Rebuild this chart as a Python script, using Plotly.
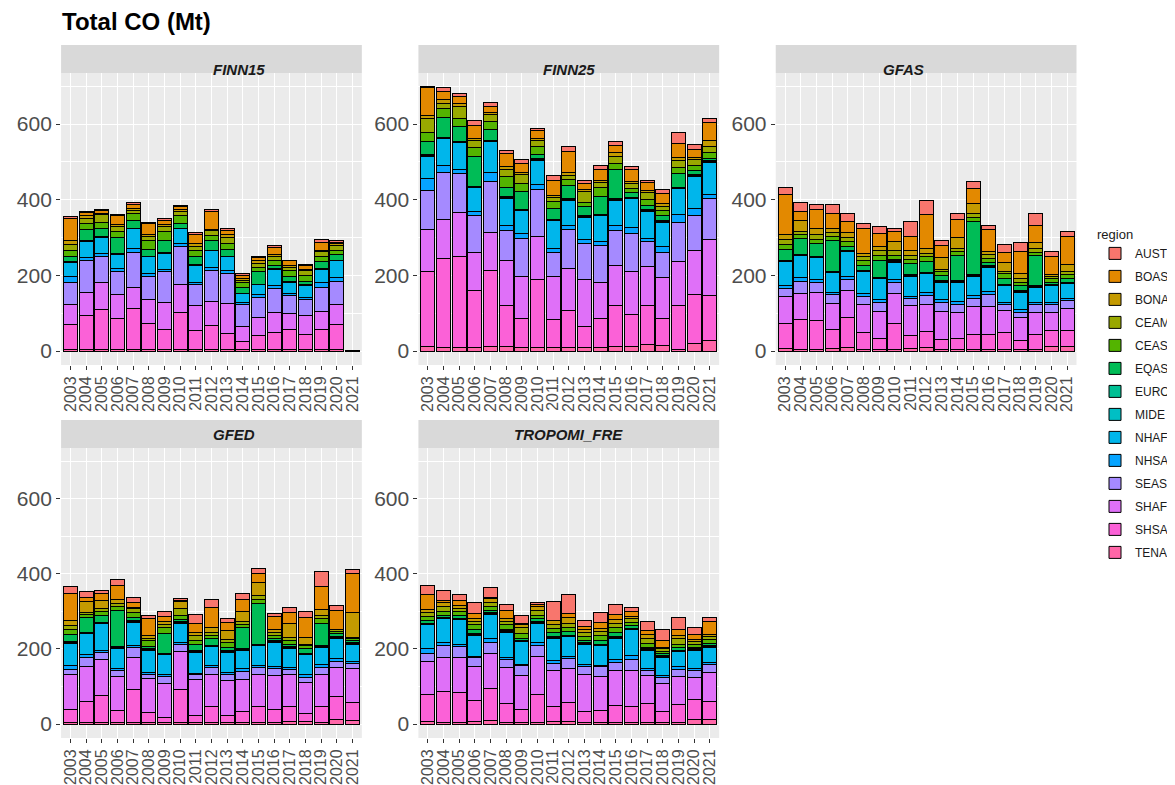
import plotly.graph_objects as go

years = [str(y) for y in range(2003, 2022)]
regions = ["AUST", "BOAS", "BONA", "CEAM", "CEAS", "EQAS", "EURO",
           "MIDE", "NHAF", "NHSA", "SEAS", "SHAF", "SHSA", "TENA"]
colours = ["#F8766D", "#E38900", "#C49A00", "#99A800", "#53B400", "#00BC56", "#00C094",
           "#00BFC4", "#00B6EB", "#06A4FF", "#A58AFF", "#DF70F8", "#FB61D7", "#FF66A8"]

# per-year rows: TENA, SHSA, SHAF, SEAS, NHSA, NHAF, MIDE, EURO, EQAS, CEAS, CEAM, BONA, BOAS, AUST
row_order = ["TENA", "SHSA", "SHAF", "SEAS", "NHSA", "NHAF", "MIDE", "EURO",
             "EQAS", "CEAS", "CEAM", "BONA", "BOAS", "AUST"]

finn15 = [
    [5, 66, 53, 58, 14, 38, 1, 1, 15, 16, 15, 9, 60, 5],
    [4, 91, 61, 82, 9, 42, 1, 2, 29, 16, 14, 6, 9, 4],
    [4, 107, 71, 69, 7, 43, 1, 1, 20, 18, 19, 3, 8, 4],
    [4, 82, 63, 60, 9, 38, 1, 2, 42, 16, 13, 5, 22, 4],
    [4, 109, 56, 91, 11, 52, 1, 1, 19, 19, 9, 5, 11, 5],
    [4, 70, 62, 60, 9, 44, 1, 1, 17, 25, 9, 6, 29, 4],
    [4, 52, 73, 80, 7, 42, 1, 1, 33, 23, 13, 6, 11, 4],
    [4, 98, 74, 100, 7, 40, 1, 1, 12, 20, 11, 5, 9, 3],
    [4, 49, 67, 56, 6, 45, 1, 1, 20, 17, 11, 6, 26, 5],
    [4, 63, 65, 82, 7, 44, 1, 1, 25, 14, 12, 3, 47, 5],
    [4, 42, 79, 80, 9, 35, 1, 1, 18, 16, 14, 8, 12, 4],
    [3, 22, 39, 59, 6, 22, 1, 1, 16, 11, 7, 4, 9, 4],
    [3, 39, 47, 53, 8, 25, 1, 1, 32, 13, 9, 7, 9, 4],
    [3, 46, 53, 63, 9, 41, 1, 1, 10, 13, 11, 5, 17, 5],
    [3, 55, 42, 47, 4, 31, 1, 1, 14, 14, 10, 5, 11, 2],
    [3, 41, 49, 42, 7, 32, 1, 1, 9, 15, 12, 3, 12, 3],
    [3, 53, 49, 64, 12, 35, 1, 1, 18, 15, 11, 5, 20, 8],
    [3, 68, 52, 61, 10, 44, 1, 1, 14, 13, 13, 3, 5, 3],
    [0.1, 0.1, 0.1, 0.1, 0.1, 0.1, 0, 0, 0.1, 0.1, 0.1, 0.1, 0.1, 0.1],
]
finn25 = [
    [12, 198, 110, 105, 30, 60, 2, 2, 36, 24, 37, 7, 73, 2],
    [8, 237, 104, 124, 17, 71, 2, 2, 52, 24, 14, 9, 22, 10],
    [8, 242, 116, 102, 12, 70, 2, 2, 40, 22, 31, 7, 18, 9],
    [10, 151, 100, 97, 11, 62, 2, 2, 78, 26, 18, 4, 34, 15],
    [12, 202, 98, 137, 22, 82, 2, 2, 28, 23, 18, 4, 16, 12],
    [12, 109, 118, 80, 12, 73, 2, 2, 23, 31, 19, 6, 35, 8],
    [8, 77, 113, 100, 12, 61, 2, 2, 47, 22, 23, 6, 22, 12],
    [8, 182, 113, 124, 13, 64, 2, 2, 12, 20, 17, 5, 20, 6],
    [10, 73, 113, 65, 11, 72, 2, 2, 28, 18, 12, 6, 39, 13],
    [10, 98, 109, 105, 10, 66, 2, 2, 35, 16, 11, 7, 57, 14],
    [10, 56, 123, 96, 11, 57, 2, 2, 24, 12, 29, 4, 16, 9],
    [10, 76, 95, 98, 10, 68, 2, 2, 48, 22, 14, 6, 28, 12],
    [12, 107, 108, 92, 13, 66, 2, 2, 79, 14, 18, 12, 19, 9],
    [12, 85, 113, 100, 17, 76, 2, 2, 11, 11, 13, 5, 33, 9],
    [18, 101, 104, 66, 9, 71, 2, 2, 11, 16, 18, 6, 21, 7],
    [15, 71, 109, 65, 16, 64, 2, 2, 14, 13, 12, 7, 26, 11],
    [5, 116, 115, 104, 20, 69, 2, 2, 35, 16, 20, 7, 37, 29],
    [20, 130, 117, 91, 20, 84, 2, 2, 11, 13, 17, 4, 22, 13],
    [27, 121, 148, 107, 10, 86, 2, 2, 5, 18, 15, 16, 47, 11],
]
gfas = [
    [7, 67, 71, 21, 7, 63, 2, 2, 29, 13, 13, 14, 105, 17],
    [4, 79, 70, 32, 9, 58, 2, 2, 42, 10, 8, 29, 24, 24],
    [4, 76, 74, 26, 8, 59, 2, 2, 33, 11, 12, 17, 51, 12],
    [7, 51, 68, 23, 7, 51, 2, 2, 80, 11, 11, 11, 39, 24],
    [9, 80, 71, 29, 9, 64, 2, 2, 11, 12, 11, 14, 28, 22],
    [4, 45, 73, 22, 7, 58, 2, 2, 14, 11, 13, 7, 67, 11],
    [4, 30, 70, 23, 8, 56, 2, 2, 45, 13, 12, 11, 35, 18],
    [4, 70, 77, 29, 8, 46, 2, 2, 5, 10, 14, 22, 27, 9],
    [7, 33, 80, 18, 6, 53, 2, 2, 30, 11, 11, 14, 37, 38],
    [9, 42, 73, 24, 8, 48, 2, 2, 29, 12, 9, 13, 89, 38],
    [4, 27, 74, 22, 8, 47, 2, 2, 14, 9, 6, 31, 32, 15],
    [4, 30, 68, 22, 8, 50, 2, 2, 67, 11, 7, 29, 47, 17],
    [4, 40, 73, 21, 9, 51, 2, 2, 140, 12, 9, 28, 38, 18],
    [4, 39, 74, 32, 8, 65, 2, 2, 7, 11, 11, 7, 58, 11],
    [4, 45, 59, 16, 5, 44, 2, 2, 16, 12, 6, 22, 27, 22],
    [4, 24, 61, 13, 7, 47, 2, 2, 13, 9, 9, 13, 60, 23],
    [3, 41, 58, 20, 5, 42, 2, 2, 79, 8, 11, 16, 46, 30],
    [12, 41, 49, 20, 7, 44, 2, 2, 5, 9, 6, 6, 46, 15],
    [11, 42, 60, 20, 7, 38, 2, 2, 10, 9, 9, 19, 75, 13],
]
gfed = [
    [4, 36, 92, 13, 11, 59, 2, 2, 19, 13, 11, 13, 74, 18],
    [4, 56, 93, 25, 6, 56, 2, 2, 41, 8, 5, 28, 10, 18],
    [4, 72, 96, 19, 6, 70, 2, 2, 18, 11, 8, 21, 18, 9],
    [3, 33, 90, 16, 5, 55, 2, 2, 96, 12, 6, 13, 36, 16],
    [3, 89, 84, 27, 6, 62, 2, 2, 9, 12, 11, 4, 13, 14],
    [4, 27, 91, 11, 5, 59, 2, 2, 6, 15, 7, 7, 44, 9],
    [4, 14, 90, 18, 6, 53, 2, 2, 51, 16, 9, 7, 15, 13],
    [3, 90, 100, 20, 5, 51, 2, 2, 5, 11, 18, 19, 3, 6],
    [4, 20, 94, 13, 5, 55, 2, 2, 17, 10, 14, 8, 25, 22],
    [4, 42, 87, 18, 5, 50, 2, 2, 17, 9, 8, 12, 55, 22],
    [4, 18, 94, 16, 6, 53, 2, 2, 9, 12, 9, 24, 22, 9],
    [4, 29, 85, 22, 7, 50, 2, 2, 55, 10, 8, 26, 31, 16],
    [4, 42, 87, 18, 6, 52, 2, 2, 109, 11, 9, 36, 24, 13],
    [4, 36, 89, 18, 6, 65, 2, 2, 6, 8, 8, 9, 33, 9],
    [7, 39, 87, 12, 6, 51, 2, 2, 7, 9, 9, 36, 31, 13],
    [7, 20, 84, 13, 8, 53, 2, 2, 13, 7, 4, 18, 52, 17],
    [3, 43, 87, 18, 9, 44, 2, 2, 59, 13, 9, 16, 62, 40],
    [12, 61, 78, 16, 8, 53, 2, 2, 8, 7, 4, 1, 51, 13],
    [9, 49, 89, 15, 5, 46, 2, 2, 5, 5, 4, 67, 104, 9],
]
tropomi = [
    [7, 71, 89, 21, 12, 65, 2, 2, 8, 10, 11, 7, 40, 23],
    [4, 83, 89, 33, 9, 62, 2, 2, 5, 11, 12, 13, 4, 27],
    [4, 80, 94, 28, 7, 65, 2, 2, 6, 12, 9, 8, 11, 16],
    [6, 56, 91, 23, 5, 56, 2, 2, 10, 14, 8, 9, 12, 29],
    [9, 87, 91, 29, 11, 66, 2, 2, 5, 12, 11, 9, 4, 25],
    [4, 52, 95, 22, 5, 66, 2, 2, 4, 13, 9, 7, 22, 15],
    [4, 34, 91, 27, 4, 59, 2, 2, 6, 13, 14, 8, 4, 20],
    [4, 76, 100, 30, 8, 51, 2, 2, 7, 9, 13, 11, 5, 6],
    [7, 39, 98, 18, 7, 59, 2, 2, 12, 10, 11, 10, 2, 49],
    [7, 51, 91, 26, 5, 53, 2, 2, 10, 11, 10, 15, 12, 50],
    [4, 30, 97, 23, 6, 52, 2, 2, 6, 11, 11, 8, 8, 16],
    [4, 32, 91, 26, 4, 52, 2, 2, 9, 14, 11, 8, 16, 25],
    [4, 45, 95, 20, 7, 58, 2, 2, 11, 12, 13, 9, 15, 25],
    [4, 43, 95, 31, 9, 69, 2, 2, 7, 9, 9, 6, 14, 11],
    [4, 52, 73, 15, 5, 47, 2, 2, 4, 11, 14, 9, 11, 25],
    [4, 29, 76, 14, 6, 49, 2, 2, 5, 7, 6, 4, 18, 29],
    [3, 48, 76, 18, 8, 40, 2, 2, 6, 10, 16, 6, 16, 34],
    [12, 53, 59, 18, 7, 47, 2, 2, 5, 7, 7, 6, 13, 18],
    [12, 48, 77, 21, 5, 41, 2, 2, 7, 9, 9, 5, 35, 11],
]

datasets = ["FINN15", "FINN25", "GFAS", "GFED", "TROPOMI_FRE"]
tables = [finn15, finn25, gfas, gfed, tropomi]

OFF = 8
W, H = 1175 - OFF, 785 - OFF
cols = [(62, 365), (422, 725), (782, 1085)]
rows = [(73, 365, 45), (448, 738, 420)]  # plot top, plot bottom, strip top


def px(v):
    v = (v - 0.6) / 0.9902  # small horizontal correction seen in the render
    return (v - OFF) / W


def py(v):
    return 1 - (v - OFF) / H


fig = go.Figure()
shapes, annotations = [], []
for k, (name, table) in enumerate(zip(datasets, tables)):
    r, c = divmod(k, 3)
    x0, x1 = cols[c]
    top, bot, stop = rows[r]
    ax = "" if k == 0 else str(k + 1)
    for reg in row_order:
        i = row_order.index(reg)
        fig.add_trace(go.Bar(
            x=years, y=[yr[i] for yr in table], name=reg,
            marker=dict(color=colours[regions.index(reg)], line=dict(color="black", width=1)),
            width=0.9, xaxis="x" + ax, yaxis="y" + ax,
            legendgroup=reg, legendrank=regions.index(reg) + 1, showlegend=(k == 0)))
    fig.layout["xaxis" + ax] = dict(
        domain=[px(x0), px(x1)], anchor="y" + ax, type="category",
        categoryorder="array", categoryarray=years, tickmode="array", tickvals=years,
        tickangle=-90, tickfont=dict(size=16, color="#4d4d4d"), ticks="outside",
        ticklen=4, tickcolor="#333333", showgrid=True, gridcolor="white", gridwidth=1.2,
        showline=False, zeroline=False, automargin=False, range=[-0.6, 18.6])
    fig.layout["yaxis" + ax] = dict(
        domain=[py(bot), py(top)], anchor="x" + ax, range=[-37, 735],
        tickvals=[0, 200, 400, 600], tickfont=dict(size=21, color="#4d4d4d"),
        ticks="outside", ticklen=4, tickcolor="#333333", gridcolor="white",
        gridwidth=1.2, zeroline=False, automargin=False,
        minor=dict(tickvals=[100, 300, 500, 700], showgrid=True, gridcolor="white",
                   gridwidth=0.5, ticks=""))
    shapes.append(dict(type="rect", xref="paper", yref="paper",
                       x0=px(x0), x1=px(x1), y0=py(top), y1=py(stop),
                       fillcolor="#d9d9d9", line=dict(width=0), layer="below"))
    annotations.append(dict(text="<b><i>%s</i></b>" % name, xref="paper", yref="paper",
                            x=px((x0 + x1) / 2), y=py((stop + top) / 2),
                            showarrow=False, font=dict(size=15, color="#1a1a1a")))

fig.update_layout(
    width=W, height=H, barmode="stack", paper_bgcolor="white",
    plot_bgcolor="#ebebeb", margin=dict(l=0, r=0, t=0, b=0),
    font=dict(family="Liberation Sans, Arial, sans-serif"),
    title=dict(text="<b>Total CO (Mt)</b>", x=px(62), xanchor="left",
               y=py(22), yanchor="middle", font=dict(size=24, color="black")),
    shapes=shapes, annotations=annotations, bargap=0.1,
    legend=dict(title=dict(text="region", font=dict(size=13)),
                traceorder="grouped", tracegroupgap=4,
                x=px(1104), xanchor="left", y=py(222), yanchor="top",
                font=dict(size=12, color="#1a1a1a"), bgcolor="white",
                itemwidth=30),
)

fig.write_html("out.html")
